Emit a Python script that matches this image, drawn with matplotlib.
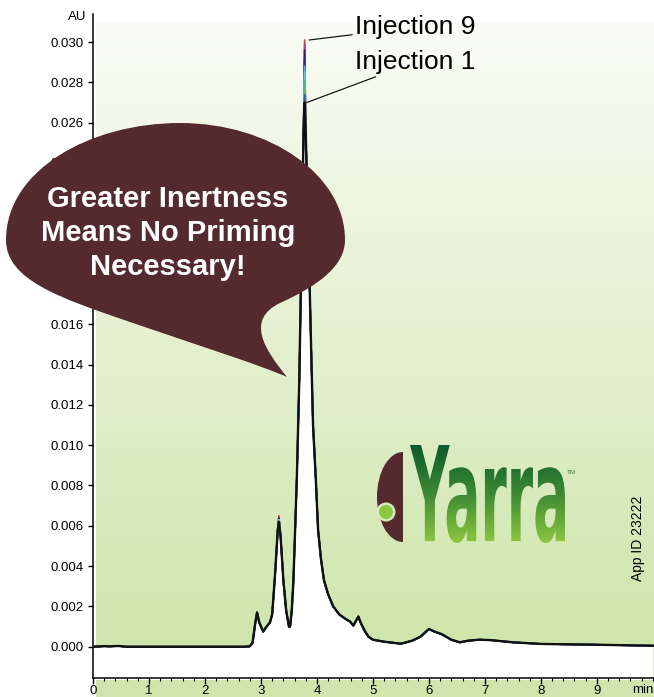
import matplotlib
matplotlib.use("Agg")
import matplotlib.pyplot as plt
import numpy as np
from matplotlib.ticker import MultipleLocator, FormatStrFormatter
from matplotlib.path import Path
from matplotlib.patches import PathPatch, Rectangle, Wedge, Circle
from matplotlib.textpath import TextPath
from matplotlib.font_manager import FontProperties
from matplotlib.transforms import Affine2D
from matplotlib.colors import LinearSegmentedColormap

plt.rcParams['font.family'] = ['Liberation Sans', 'DejaVu Sans']

# chromatogram (injection 1, black trace)
time_min = [0.0, 0.2, 0.3, 0.45, 0.6, 1.0, 2.0, 2.7, 2.8, 2.85, 2.9, 2.93, 2.97,
            3.04, 3.1, 3.16, 3.2, 3.25, 3.3, 3.32, 3.35, 3.4, 3.45, 3.5, 3.52,
            3.55, 3.58, 3.61, 3.64, 3.685, 3.71, 3.74, 3.76, 3.78, 3.80, 3.83,
            3.86, 3.89, 3.93, 3.98, 4.02, 4.07, 4.125, 4.2, 4.29, 4.4, 4.5,
            4.59, 4.65, 4.7, 4.74, 4.78, 4.85, 4.92, 5.0, 5.2, 5.5, 5.7, 5.85,
            6.0, 6.1, 6.23, 6.4, 6.55, 6.7, 6.9, 7.1, 7.5, 8.0, 9.0, 10.0]
absorb_au = [0.0, 0.00003, 0.00002, 0.00004, 0.0, 0.0, 0.0, 0.0, 0.00002,
             0.0002, 0.0012, 0.0017, 0.0012, 0.00075, 0.001, 0.0012, 0.0016,
             0.0035, 0.0058, 0.0062, 0.0055, 0.0033, 0.0018, 0.001, 0.001,
             0.0018, 0.0033, 0.0058, 0.0083, 0.0133, 0.0173, 0.022, 0.0255,
             0.027, 0.0255, 0.022, 0.019, 0.0155, 0.011, 0.0083, 0.0058, 0.0044,
             0.0033, 0.0026, 0.002, 0.0016, 0.0014, 0.00125, 0.00105, 0.0013,
             0.0015, 0.0012, 0.0008, 0.0005, 0.00035, 0.00025, 0.00015, 0.0003,
             0.0005, 0.00088, 0.00075, 0.00062, 0.00035, 0.00022, 0.0003,
             0.00035, 0.00033, 0.00022, 0.00014, 0.0001, 0.00005]

# per-injection apex heights (main peak at 3.78 min, small peak at 3.32 min)
injections = [9, 8, 7, 6, 5, 4, 3, 2, 1]
main_apex = [0.0301, 0.0299, 0.0296, 0.0292, 0.0288, 0.0285, 0.0281, 0.0274, 0.0270]
small_apex = [0.0065, 0.0064, 0.0064, 0.0063, 0.0063, 0.0063, 0.0062, 0.0062, 0.0062]
inj_colors = ['#e8312a', '#b8338e', '#1f2a78', '#283593', '#5bb5d5', '#7ac4e0',
              '#5cb85c', '#2d58a8', '#111111']

t = np.array(time_min)
base = np.array(absorb_au)
i_main = time_min.index(3.78)
i_small = time_min.index(3.32)

W, H = 654, 697
fig = plt.figure(figsize=(W / 100, H / 100), dpi=100)
fig.patch.set_facecolor('white')

ax = fig.add_axes([93 / W, 19 / H, (W - 93) / W, 664 / H])
ymin, ymax = -0.00155, 0.03139
ax.set_xlim(0, 10.02)
ax.set_ylim(ymin, ymax)

# gradient background above the trace
bg = LinearSegmentedColormap.from_list('bg', ['#fafcf5', '#cce4a7'])
grad = np.linspace(0, 1, 256).reshape(-1, 1)
ax.imshow(grad, cmap=bg, extent=(0.06, 10.02, ymin, 0.0309), aspect='auto',
          zorder=0, interpolation='bicubic')

traces = []
for k in range(len(injections)):
    y = base.copy()
    y[i_main] = main_apex[k]
    y[i_small] = small_apex[k]
    traces.append(y)

ax.fill_between(t, ymin, np.max(traces, axis=0), color='white', zorder=1, lw=0)
for k, y in enumerate(traces):
    lw = 1.7 if injections[k] == 1 else 1.2
    ax.plot(t, y, color=inj_colors[k], lw=lw, zorder=2 + k)

ax.set_xlim(0, 10.02)
ax.set_ylim(ymin, ymax)

for s in ['top', 'right']:
    ax.spines[s].set_visible(False)
for s in ['left', 'bottom']:
    ax.spines[s].set_linewidth(1.1)

ax.set_yticks(np.arange(0, 0.0305, 0.002))
ax.yaxis.set_major_formatter(FormatStrFormatter('%.3f'))
ax.set_xticks(range(0, 10))
ax.xaxis.set_minor_locator(MultipleLocator(0.2))
ax.tick_params(axis='y', length=3.5, width=1, labelsize=9.5, pad=3)
ax.tick_params(axis='x', which='major', length=4.5, width=1, labelsize=9.5, pad=0.5)
ax.tick_params(axis='x', which='minor', length=2.2, width=0.8)

fig.text(86 / W, 1 - 17 / H, 'AU', ha='right', va='center', fontsize=9.5)
fig.text(632 / W, 7 / H, 'min', ha='left', va='center', fontsize=9.5)

# green strip under the x axis
fig.add_artist(Rectangle((96 / W, 0), (W - 96) / W, 17 / H, transform=fig.transFigure,
                         facecolor='#cfe5ab', edgecolor='none', zorder=-1))

# injection labels
ax.annotate('Injection 9', xy=(3.86, main_apex[0]), xytext=(355, H - 27),
            textcoords='figure pixels', ha='left', va='center', fontsize=19,
            arrowprops=dict(arrowstyle='-', color='black', lw=0.8, shrinkA=0, shrinkB=0),
            zorder=20)
ax.annotate('Injection 1', xy=(3.82, main_apex[-1]), xytext=(355, H - 62),
            textcoords='figure pixels', ha='left', va='center', fontsize=19,
            arrowprops=dict(arrowstyle='-', color='black', lw=0.8, shrinkA=0, shrinkB=0),
            zorder=20)

# overlay in pixel coordinates for the speech bubble and logo
ov = fig.add_axes([0, 0, 1, 1], zorder=5)
ov.set_facecolor('none')
ov.axis('off')

maroon = '#552a2e'
verts = [(180, 123),
         (90, 123), (6, 170), (6, 240),
         (6, 280), (60, 298), (130, 322),
         (200, 346), (260, 365), (287, 377),
         (265, 350), (245, 320), (280, 303),
         (320, 285), (345, 265), (345, 240),
         (345, 175), (270, 123), (180, 123),
         (180, 123)]
codes = [Path.MOVETO] + [Path.CURVE4] * 18 + [Path.CLOSEPOLY]
ov.add_patch(PathPatch(Path(verts, codes), facecolor=maroon, edgecolor='none'))
ov.text(168, 233, 'Greater Inertness\nMeans No Priming\nNecessary!', color='white',
        fontsize=21, fontweight='bold', ha='center', va='center', linespacing=1.28)

# Yarra logo
ov.add_patch(Wedge((403, 497), 1, 90, 270, facecolor=maroon, edgecolor='none',
                   transform=Affine2D().scale(26, 45).translate(403 - 26 * 403, 497 - 45 * 497) + ov.transData))
ov.add_patch(Circle((386, 512), 9.5, facecolor='#d7ebc0', edgecolor='none'))
ov.add_patch(Circle((386, 512), 7, facecolor='#8dc63f', edgecolor='none'))

tp = TextPath((0, 0), 'Yarra', size=100,
              prop=FontProperties(family='DejaVu Sans', weight='bold'))
ext = tp.get_extents()
tr = Affine2D().translate(-ext.x0, -ext.y0).scale(155 / ext.width, -98 / ext.height).translate(410, 543)
logo_path = tr.transform_path(tp)
clip = PathPatch(logo_path, facecolor='none', edgecolor='none')
ov.add_patch(clip)
logo_cmap = LinearSegmentedColormap.from_list('logo', ['#0b5a2a', '#3d8a35', '#8dc63f'])
im = ov.imshow(grad, cmap=logo_cmap, extent=(410, 565, 543, 445), aspect='auto')
im.set_clip_path(clip)
ov.text(567, 473, 'TM', fontsize=4.5, color='#3d7a35', ha='left', va='center')

ov.text(638, 538, 'App ID 23222', rotation=90, fontsize=10, ha='center', va='center')

ov.set_xlim(0, W)
ov.set_ylim(H, 0)

fig.savefig('out.png', dpi=100)
